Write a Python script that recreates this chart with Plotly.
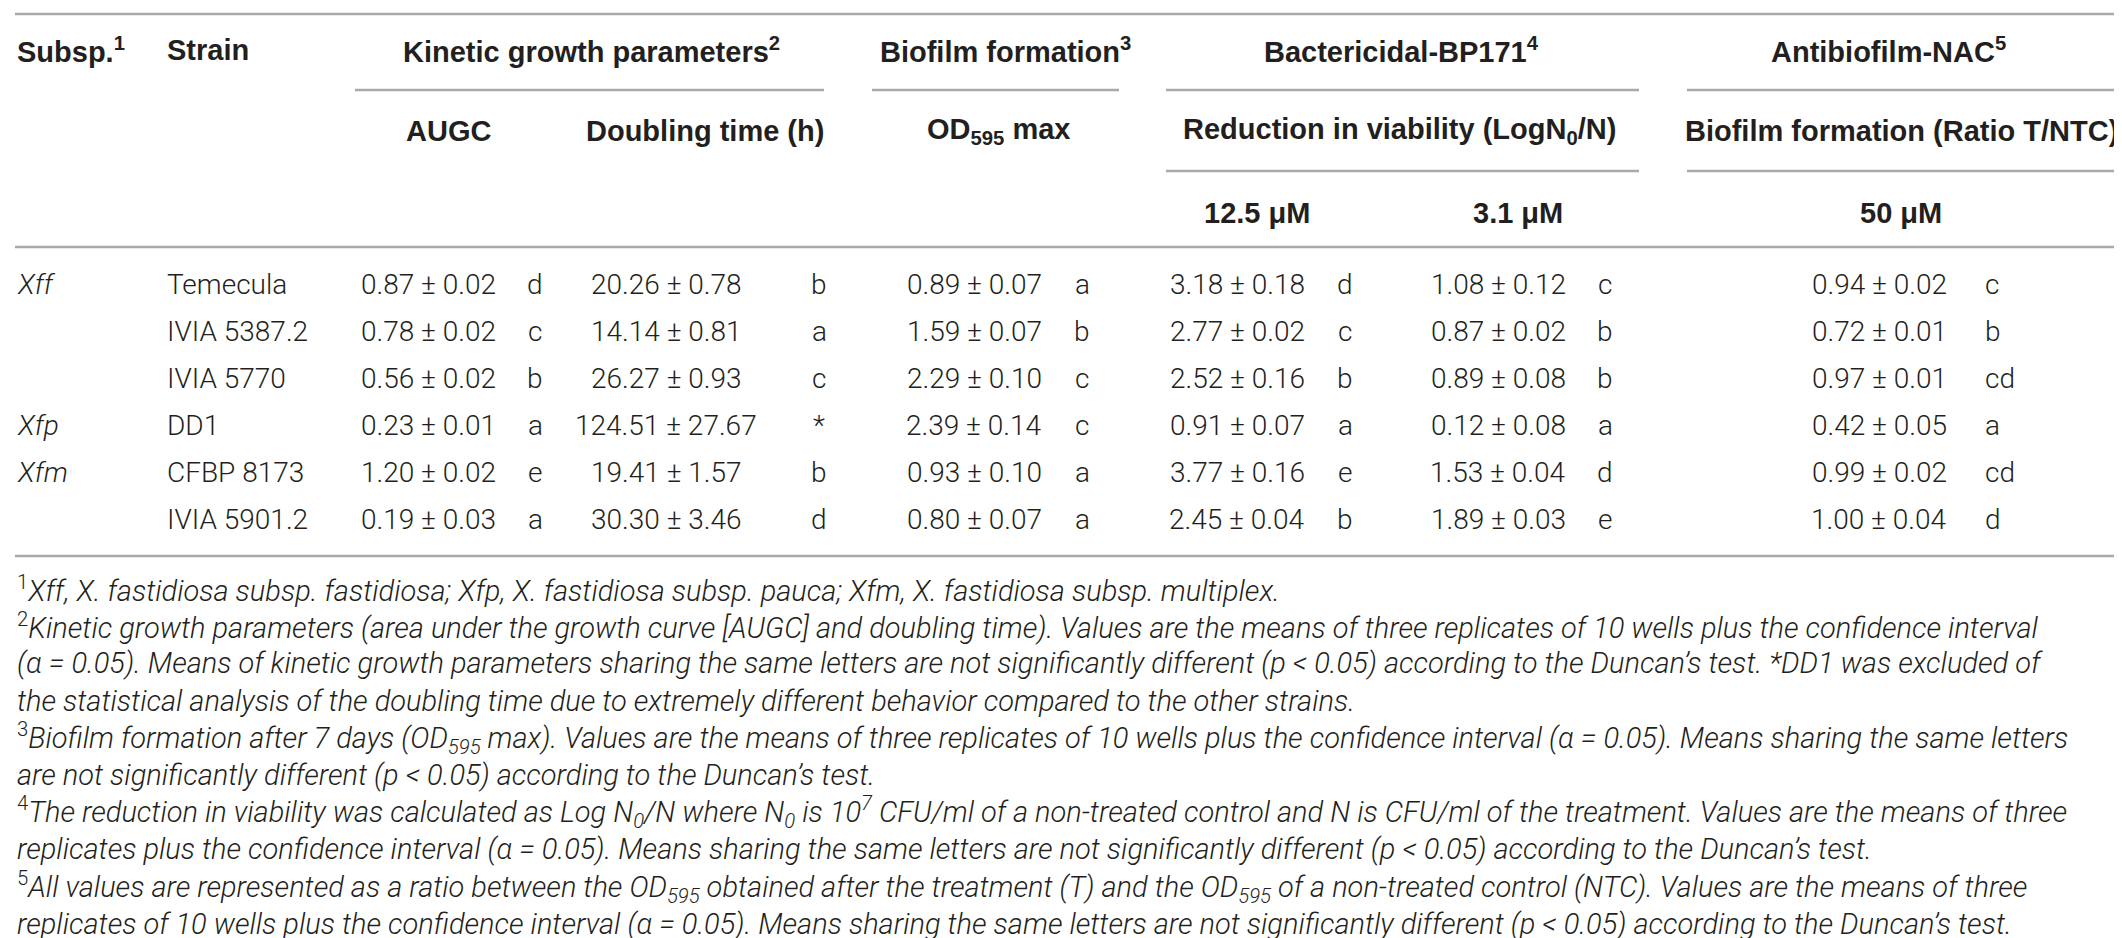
import plotly.graph_objects as go

# table content
subsp = ["Xff", "", "", "Xfp", "Xfm", ""]
strains = ["Temecula", "IVIA 5387.2", "IVIA 5770", "DD1", "CFBP 8173", "IVIA 5901.2"]

augc_mean = [0.87, 0.78, 0.56, 0.23, 1.20, 0.19]
augc_ci = [0.02, 0.02, 0.02, 0.01, 0.02, 0.03]
augc_letter = ["d", "c", "b", "a", "e", "a"]

dbl_mean = [20.26, 14.14, 26.27, 124.51, 19.41, 30.30]
dbl_ci = [0.78, 0.81, 0.93, 27.67, 1.57, 3.46]
dbl_letter = ["b", "a", "c", "*", "b", "d"]

od_mean = [0.89, 1.59, 2.29, 2.39, 0.93, 0.80]
od_ci = [0.07, 0.07, 0.10, 0.14, 0.10, 0.07]
od_letter = ["a", "b", "c", "c", "a", "a"]

bp125_mean = [3.18, 2.77, 2.52, 0.91, 3.77, 2.45]
bp125_ci = [0.18, 0.02, 0.16, 0.07, 0.16, 0.04]
bp125_letter = ["d", "c", "b", "a", "e", "b"]

bp31_mean = [1.08, 0.87, 0.89, 0.12, 1.53, 1.89]
bp31_ci = [0.12, 0.02, 0.08, 0.08, 0.04, 0.03]
bp31_letter = ["c", "b", "b", "a", "d", "e"]

nac_mean = [0.94, 0.72, 0.97, 0.42, 0.99, 1.00]
nac_ci = [0.02, 0.01, 0.01, 0.05, 0.02, 0.04]
nac_letter = ["c", "b", "cd", "a", "cd", "d"]

head_top = ["Subsp.<sup>1</sup>", "Strain", "Kinetic growth parameters<sup>2</sup>",
            "Biofilm formation<sup>3</sup>", "Bactericidal-BP171<sup>4</sup>", "Antibiofilm-NAC<sup>5</sup>"]
head_mid = ["AUGC", "Doubling time (h)", "OD<sub>595</sub> max",
            "Reduction in viability (LogN<sub>0</sub>/N)", "Biofilm formation (Ratio T/NTC)"]
head_low = ["12.5 \u03bcM", "3.1 \u03bcM", "50 \u03bcM"]

footnotes = [
    "<sup>1</sup><i>Xff, X. fastidiosa subsp. fastidiosa; Xfp, X. fastidiosa subsp. pauca; Xfm, X. fastidiosa subsp. multiplex.</i>",
    "<sup>2</sup><i>Kinetic growth parameters (area under the growth curve [AUGC] and doubling time). Values are the means of three replicates of 10 wells plus the confidence interval</i>",
    "<i>(\u03b1 = 0.05). Means of kinetic growth parameters sharing the same letters are not significantly different (p &lt; 0.05) according to the Duncan\u2019s test. *DD1 was excluded of</i>",
    "<i>the statistical analysis of the doubling time due to extremely different behavior compared to the other strains.</i>",
    "<sup>3</sup><i>Biofilm formation after 7 days (OD<sub>595</sub> max). Values are the means of three replicates of 10 wells plus the confidence interval (\u03b1 = 0.05). Means sharing the same letters</i>",
    "<i>are not significantly different (p &lt; 0.05) according to the Duncan\u2019s test.</i>",
    "<sup>4</sup><i>The reduction in viability was calculated as Log N<sub>0</sub>/N where N<sub>0</sub> is 10<sup>7</sup> CFU/ml of a non-treated control and N is CFU/ml of the treatment. Values are the means of three</i>",
    "<i>replicates plus the confidence interval (\u03b1 = 0.05). Means sharing the same letters are not significantly different (p &lt; 0.05) according to the Duncan\u2019s test.</i>",
    "<sup>5</sup><i>All values are represented as a ratio between the OD<sub>595</sub> obtained after the treatment (T) and the OD<sub>595</sub> of a non-treated control (NTC). Values are the means of three</i>",
    "<i>replicates of 10 wells plus the confidence interval (\u03b1 = 0.05). Means sharing the same letters are not significantly different (p &lt; 0.05) according to the Duncan\u2019s test.</i>",
]

INK = "#231f20"
RULE = "#a7a9ac"
BODY = "Roboto"
HEAD = "Liberation Sans"

W, H = 2122, 938
L, R = 7, 2113

fig = go.Figure()


def txt(x, y, s, anchor="left", size=28, weight=300, family=BODY):
    fig.add_annotation(x=x, y=y, xref="x", yref="y", text=s, showarrow=False,
                       xanchor=anchor, yanchor="middle",
                       font=dict(family=family, size=size, color=INK, weight=weight))


def rule(x0, x1, y):
    fig.add_shape(type="line", xref="x", yref="y", x0=x0, x1=x1, y0=y, y1=y,
                  line=dict(color=RULE, width=2.5))


# rules
rule(L, R, 6)
for a, b in [(347, 816), (864, 1111), (1158, 1631), (1679, R)]:
    rule(a, b, 82)
for a, b in [(1158, 1631), (1679, R)]:
    rule(a, b, 163)
rule(L, R, 239)
rule(L, R, 548)

# header rows
top_x = [(L, "left"), (157, "left"), (583, "center"), (997, "center"), (1393, "center"), (1880, "center")]
for s, (x, anc) in zip(head_top, top_x):
    txt(x, 42, s, anc, size=29, weight=700, family=HEAD)
for s, x in zip(head_mid, [440, 697, 990, 1391, 1893]):
    txt(x, 123, s, "center", size=29, weight=700, family=HEAD)
for s, x in zip(head_low, [1249, 1510, 1893]):
    txt(x, 205, s, "center", size=29, weight=700, family=HEAD)

# data rows
row0, row_h = 276, 47
cols = [
    (augc_mean, augc_ci, augc_letter, 420, 527, "center"),
    (dbl_mean, dbl_ci, dbl_letter, 658, 811, "center"),
    (od_mean, od_ci, od_letter, 966, 1074, "center"),
    (bp125_mean, bp125_ci, bp125_letter, 1229, 1337, "center"),
    (bp31_mean, bp31_ci, bp31_letter, 1490, 1597, "center"),
    (nac_mean, nac_ci, nac_letter, 1871, 1975, "left"),
]
for i in range(len(strains)):
    y = row0 + i * row_h
    if subsp[i]:
        txt(L, y, "<i>%s</i>" % subsp[i])
    txt(157, y, strains[i])
    for mean, ci, let, xv, xl, la in cols:
        txt(xv, y, "%.2f \u00b1 %.2f" % (mean[i], ci[i]), "center")
        txt(xl, y, let[i], la)

# footnotes
fn0, fn_h = 581, 37.2
for i, s in enumerate(footnotes):
    txt(L, fn0 + i * fn_h, s, "left", size=29)

fig.update_layout(
    width=W, height=H, autosize=False,
    margin=dict(l=0, r=0, t=0, b=0),
    paper_bgcolor="white", plot_bgcolor="white", showlegend=False,
    xaxis=dict(range=[0, W], visible=False, fixedrange=True),
    yaxis=dict(range=[H, 0], visible=False, fixedrange=True),
)

fig.write_html("out.html")
